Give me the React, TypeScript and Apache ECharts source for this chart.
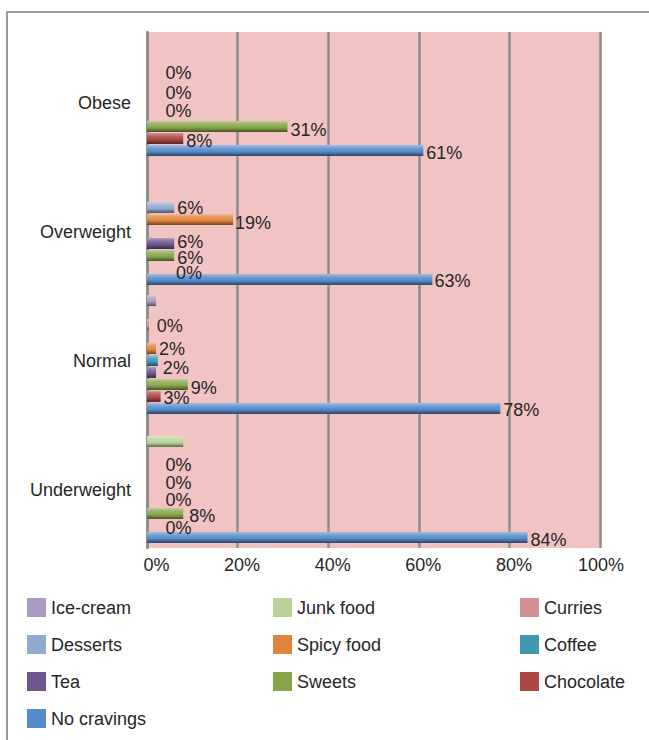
import React, { useEffect, useRef } from "react";
import * as echarts from "echarts";

// Categories, bottom to top
const categories = ["Underweight", "Normal", "Overweight", "Obese"];
const xTicks = [0, 20, 40, 60, 80, 100];

// Series values (%), order: Underweight, Normal, Overweight, Obese
const iceCream = [0, 2, 0, 0];
const junkFood = [8, 0, 0, 0];
const curries = [0, 0.4, 0, 0];
const desserts = [0, 0, 6, 0];
const spicyFood = [0, 2, 19, 0];
const coffee = [0, 2.4, 0, 0];
const tea = [0, 2, 6, 0];
const sweets = [8, 9, 6, 31];
const chocolate = [0, 3, 0, 8];
const noCravings = [84, 78, 63, 61];

const seriesNames = [
  "Ice-cream",
  "Junk food",
  "Curries",
  "Desserts",
  "Spicy food",
  "Coffee",
  "Tea",
  "Sweets",
  "Chocolate",
  "No cravings",
];
const seriesValues = [iceCream, junkFood, curries, desserts, spicyFood, coffee, tea, sweets, chocolate, noCravings];
const seriesColors = [
  "#a99bc1",
  "#bad197",
  "#d19392",
  "#92aad0",
  "#df843c",
  "#3f99b1",
  "#6f568f",
  "#89a54a",
  "#aa4643",
  "#568bcb",
];

// Which data labels are shown (as in the original), with small label nudges
const labelTweaks: Record<string, (number[] | null)[]> = {
  "Ice-cream": [null, null, null, null],
  "Junk food": [null, null, null, null],
  Curries: [null, [5, 1.5], null, null],
  Desserts: [[15.5, -1], null, [0, 0], [15.5, -5.5]],
  "Spicy food": [[15.5, 5], [0, 0.5], [-1, 3.5], [15.5, 2]],
  Coffee: [null, [2, 8], null, null],
  Tea: [[15.5, -1], null, [0, -1], [15.5, -3.5]],
  Sweets: [[3, 2.5], [0, 3.5], [0, 2.5], [0, 3.5]],
  Chocolate: [[15.5, 2.5], [0, 2], [26, 6], [0, 3]],
  "No cravings": [[0, 3], [0, 2], [-1, 1.5], [0, 3]],
};

const legendColumns = [
  ["Ice-cream", "Desserts", "Tea", "No cravings"],
  ["Junk food", "Spicy food", "Sweets"],
  ["Curries", "Coffee", "Chocolate"],
];
const legendLefts = [27, 273, 520];

const FONT = "'Liberation Sans', Arial, sans-serif";

function mix(hex: string, target: number, t: number): string {
  const n = parseInt(hex.slice(1), 16);
  const r = (n >> 16) & 255;
  const g = (n >> 8) & 255;
  const b = n & 255;
  const m = (c: number) => Math.round(c + (target - c) * t);
  return `rgb(${m(r)},${m(g)},${m(b)})`;
}

function barGradient(hex: string) {
  return new echarts.graphic.LinearGradient(0, 0, 0, 1, [
    { offset: 0, color: mix(hex, 255, 0.45) },
    { offset: 0.3, color: mix(hex, 255, 0.15) },
    { offset: 0.6, color: hex },
    { offset: 1, color: mix(hex, 0, 0.5) },
  ]);
}

export default function App() {
  const ref = useRef<HTMLDivElement>(null);

  useEffect(() => {
    if (!ref.current) return;
    const chart = echarts.init(ref.current, undefined, { renderer: "svg" });

    const colorOf = (name: string) => seriesColors[seriesNames.indexOf(name)];

    const series = seriesNames.map((name, si) => ({
      name,
      type: "bar",
      barWidth: 11,
      barGap: "9%",
      itemStyle: { color: barGradient(seriesColors[si]) },
      label: {
        position: "right",
        distance: 3,
        fontSize: 18,
        fontFamily: FONT,
        color: "#262626",
        formatter: (p: any) => Math.round(p.value) + "%",
      },
      data: seriesValues[si].map((v, ci) => {
        const t = labelTweaks[name][ci];
        return {
          value: v,
          label: t ? { show: true, offset: t } : { show: false },
        };
      }),
    }));

    const legends = legendColumns.map((col, i) => ({
      orient: "vertical",
      left: legendLefts[i],
      top: 598,
      padding: 0,
      itemWidth: 19,
      itemHeight: 19,
      itemGap: 18,
      icon: "rect",
      selectedMode: false,
      textStyle: { fontSize: 18, fontFamily: FONT, color: "#262626" },
      data: col.map((n) => ({ name: n, itemStyle: { color: colorOf(n) } })),
    }));

    chart.setOption({
      animation: false,
      textStyle: { fontFamily: FONT },
      graphic: [
        {
          type: "rect",
          shape: { x: 7, y: 12, width: 700, height: 800 },
          style: { fill: "none", stroke: "#808080", lineWidth: 1.6 },
          silent: true,
        },
      ],
      grid: {
        left: 147,
        right: 49,
        top: 32,
        bottom: 192,
        show: true,
        backgroundColor: "#f2c3c3",
        borderWidth: 0,
      },
      legend: legends,
      xAxis: {
        type: "value",
        min: xTicks[0],
        max: xTicks[xTicks.length - 1],
        interval: 20,
        axisLine: { show: false },
        axisTick: { show: false },
        splitLine: { show: true, lineStyle: { color: "#8c8c8c", width: 2.5 } },
        axisLabel: {
          margin: 8,
          fontSize: 18,
          fontFamily: FONT,
          color: "#262626",
          formatter: (v: number) =>
            v === 0 ? "{z|0%}" : v === 100 ? "{h|100%}" : "{n|" + v + "%}",
          rich: {
            z: { fontSize: 18, fontFamily: FONT, color: "#262626", padding: [0, 0, 0, 19] },
            n: { fontSize: 18, fontFamily: FONT, color: "#262626", padding: [0, 0, 0, 9] },
            h: { fontSize: 18, fontFamily: FONT, color: "#262626", padding: [0, 0, 0, 2] },
          },
        },
      },
      yAxis: {
        type: "category",
        data: categories,
        axisLine: { show: true, lineStyle: { color: "#8c8c8c", width: 2.5 } },
        axisTick: { show: false },
        splitLine: { show: false },
        axisLabel: {
          margin: 14,
          fontSize: 18,
          fontFamily: FONT,
          color: "#262626",
          formatter: (v: string) => "{c|" + v + "}",
          rich: {
            c: {
              fontSize: 18,
              fontFamily: FONT,
              color: "#262626",
              padding: [12, 2, 0, 0],
            },
          },
        },
      },
      series,
    });

    return () => chart.dispose();
  }, []);

  return (
    <div
      ref={ref}
      style={{ position: "absolute", left: 0, top: 0, width: 649, height: 740, background: "#fff" }}
    />
  );
}
